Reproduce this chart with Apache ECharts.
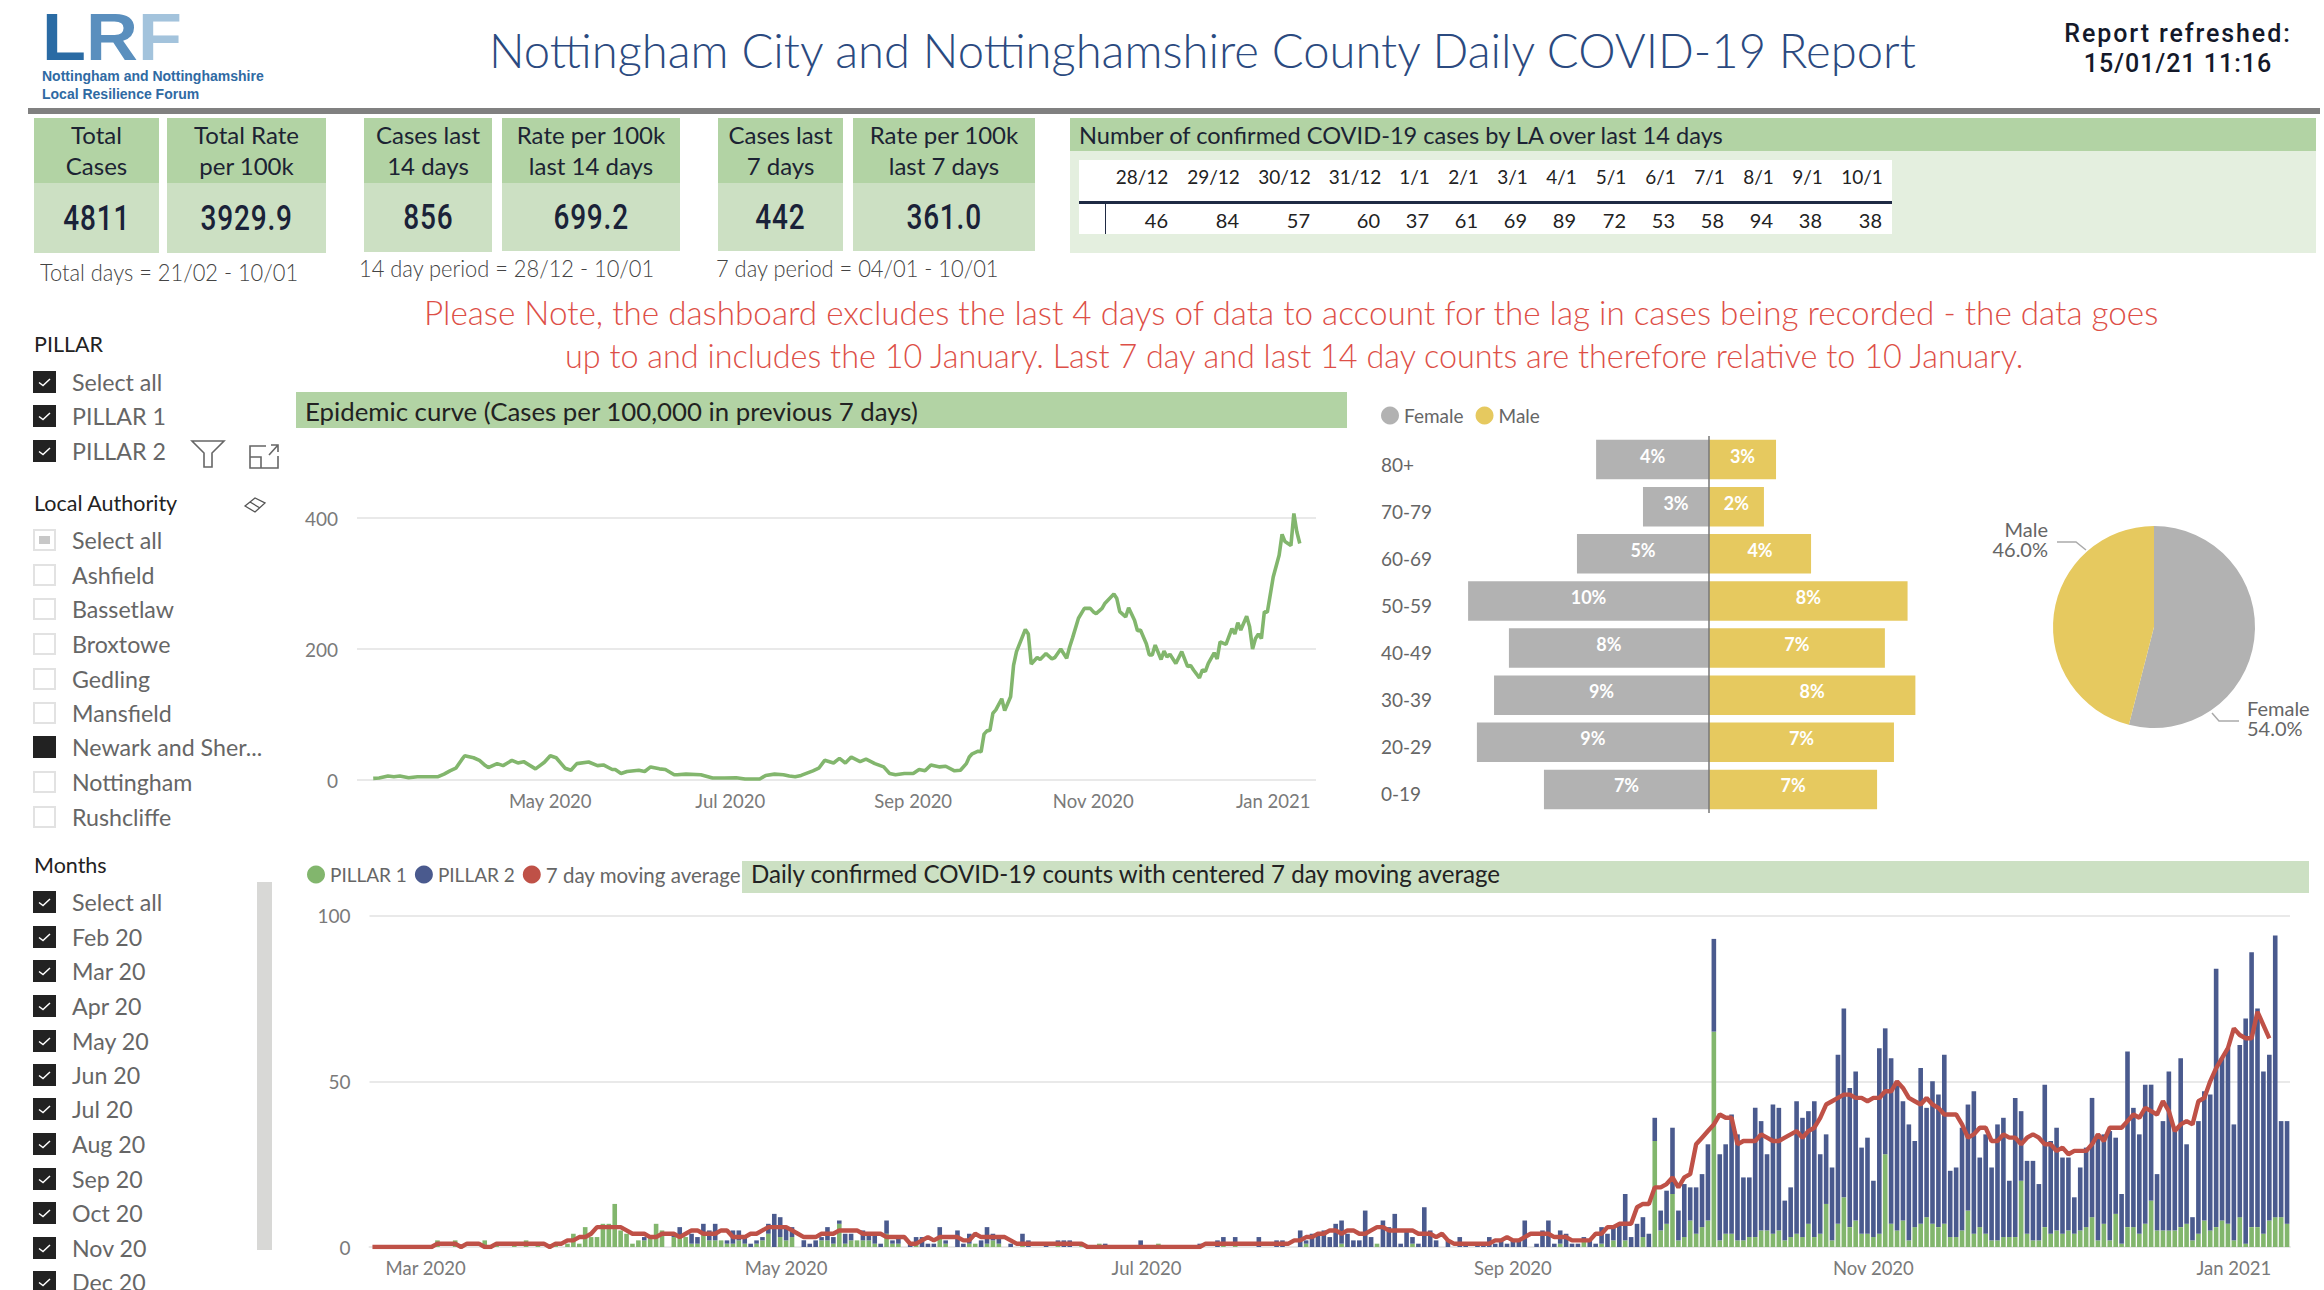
<!DOCTYPE html>
<html>
<head>
<meta charset="utf-8">
<title>Nottingham COVID-19 Report</title>
<script src="https://cdn.jsdelivr.net/npm/echarts@6/dist/echarts.min.js"></script>
<style>
  html, body { margin: 0; padding: 0; background: #fff; }
  #page { position: relative; width: 2324px; height: 1290px; overflow: hidden; font-family: Lato, "Open Sans", sans-serif; color: #222; }
  .abs { position: absolute; white-space: nowrap; }
  .block { position: absolute; }
  .kpi-head { box-sizing: border-box; padding-bottom: 2px; display: flex; flex-direction: column; justify-content: center; text-align: center; font-size: 24px; line-height: 31px; color: #1c2333; background: #b2d3a4; }
  .kpi-body { display: flex; align-items: center; justify-content: center; color: #1a2238; background: #cce0c3; }
  .kpi-body span { display: inline-block; font-family: Roboto, sans-serif; font-weight: 500; font-size: 35px; letter-spacing: 1px; transform: scaleX(.8); }
  .caption { font-size: 23px; font-weight: 300; color: #444; transform: scaleX(.95); transform-origin: left center; }
  .slicer-title { font-size: 21.5px; color: #222; }
  .slicer-item { font-size: 23.2px; color: #666; }
  .box { position: absolute; width: 23px; height: 22px; box-sizing: border-box; }
</style>
</head>
<body>
<div id="page">
  <div id="chart-epi" class="block" style="left:290px;top:430px;width:1060px;height:400px"></div>
  <div id="chart-pyramid" class="block" style="left:1360px;top:390px;width:620px;height:440px"></div>
  <div id="chart-pie" class="block" style="left:1980px;top:480px;width:344px;height:300px"></div>
  <div id="chart-daily" class="block" style="left:290px;top:850px;width:2034px;height:440px"></div>
</div>
<script>
(function() {
  // ===== data =====
  var kpiHeads = [['Total', 'Cases'], ['Total Rate', 'per 100k'], ['Cases last', '14 days'], ['Rate per 100k', 'last 14 days'], ['Cases last', '7 days'], ['Rate per 100k', 'last 7 days']];
  var kpiValues = ['4811', '3929.9', '856', '699.2', '442', '361.0'];
  var tableDays = ['28/12', '29/12', '30/12', '31/12', '1/1', '2/1', '3/1', '4/1', '5/1', '6/1', '7/1', '8/1', '9/1', '10/1'];
  var tableCases = [46, 84, 57, 60, 37, 61, 69, 89, 72, 53, 58, 94, 38, 38];
  var pillarOptions = ['Select all', 'PILLAR 1', 'PILLAR 2'];
  var laOptions = ['Select all', 'Ashfield', 'Bassetlaw', 'Broxtowe', 'Gedling', 'Mansfield', 'Newark and Sher...', 'Nottingham', 'Rushcliffe'];
  var monthOptions = ['Select all', 'Feb 20', 'Mar 20', 'Apr 20', 'May 20', 'Jun 20', 'Jul 20', 'Aug 20', 'Sep 20', 'Oct 20', 'Nov 20', 'Dec 20'];

  // epidemic curve: days after 2 Mar 2020, rate per 100k
  var epiDays = [0, 2, 5, 7, 9, 12, 15, 22, 24, 26, 28, 30, 31, 34, 36, 38, 39, 42, 44, 47, 49, 51, 55, 58, 60, 62, 65, 67, 69, 73, 76, 78, 81, 82, 84, 86, 90, 92, 94, 97, 99, 102, 103, 106, 111, 115, 119, 123, 126, 131, 133, 136, 139, 141, 143, 145, 149, 151, 153, 156, 158, 160, 162, 165, 167, 170, 173, 175, 177, 180, 183, 185, 187, 189, 192, 194, 197, 199, 201, 202, 203, 205, 206, 207, 208, 209, 210, 211, 213, 214, 216, 217, 218, 221, 222, 223, 225, 226, 228, 230, 231, 233, 235, 236, 237, 239, 241, 243, 244, 245, 247, 248, 251, 252, 253, 255, 256, 258, 259, 260, 262, 263, 264, 265, 267, 268, 269, 270, 272, 274, 276, 277, 278, 280, 281, 282, 283, 285, 286, 287, 289, 291, 292, 293, 294, 296, 297, 298, 299, 300, 301, 302, 303, 305, 307, 308, 309, 311, 312, 313, 314];
  var epiRates = [2.5, 3, 6, 5, 6, 3.5, 5, 5, 9, 14, 18, 31, 37, 34, 30, 22, 19, 25, 22, 30, 26, 28, 17, 27, 37, 34, 18, 15, 25, 27.5, 22, 23, 16, 16, 10, 13, 15, 13, 20, 17, 16, 8, 8, 9, 8, 3, 3, 3.5, 1.5, 1.5, 7, 9, 8, 6, 5, 7, 14, 18, 30, 26, 33, 26, 35, 28, 32, 25, 20, 10, 8, 10, 10, 16, 14, 23, 20, 21, 14, 15, 25, 35, 40, 44, 43, 70, 75, 76, 102, 107, 124, 106, 127, 175, 196, 230, 223, 177, 187, 184, 193, 185, 187, 200, 186, 203, 217, 247, 262, 262, 257, 254, 262, 270, 284, 277, 257, 249, 263, 244, 228, 229, 208, 191, 191, 206, 184, 197, 188, 192, 178, 196, 173, 175, 168, 156, 168, 166, 178, 194, 185, 211, 207, 231, 223, 240, 229, 250, 234, 200, 216, 223, 216, 257, 256, 310, 343, 375, 364, 358, 407, 379, 361];
  var epiTicks = [[2020, 4, 'May 2020'], [2020, 6, 'Jul 2020'], [2020, 8, 'Sep 2020'], [2020, 10, 'Nov 2020'], [2021, 0, 'Jan 2021']];

  // age / sex pyramid, % of all cases
  var ageBands = ['80+', '70-79', '60-69', '50-59', '40-49', '30-39', '20-29', '0-19'];
  var femaleShare = [4.48, 2.62, 5.24, 9.56, 7.94, 8.53, 9.21, 6.55];
  var maleShare = [2.66, 2.18, 4.05, 7.88, 6.98, 8.19, 7.34, 6.67];
  var sexNames = ['Female', 'Male'];
  var sexTotals = [54.0, 46.0];

  // daily counts from 21 Feb 2020, one row per 25 days
  var pillar1 = [
    0,0,0,0,0,0,0,0,0,0,0,2,0,0,2,0,0,0,0,2,0,1,0,0,1,
    0,2,0,1,0,0,1,0,1,4,1,6,3,3,7,7,13,5,4,1,2,2,3,7,5,
    0,3,3,3,1,1,4,2,2,2,1,1,2,1,0,1,2,4,0,3,2,3,0,0,0,
    0,2,2,1,7,1,2,2,2,2,1,0,4,1,1,0,0,1,0,0,0,3,1,0,0,
    0,1,1,0,1,2,1,0,0,0,1,0,0,0,0,0,1,0,0,0,1,0,0,1,0,
    0,0,0,0,0,0,0,0,1,0,0,0,0,0,0,0,0,0,0,1,0,1,0,0,0,
    0,0,0,0,0,0,0,0,1,0,0,0,0,0,1,0,0,0,0,0,1,0,0,0,0,
    0,1,0,0,0,0,0,0,0,0,0,0,0,0,0,0,0,0,0,0,0,0,0,0,0,
    0,1,0,0,0,2,0,0,1,0,2,0,2,0,0,3,0,32,5,7,16,2,3,8,4,
    6,8,65,2,4,4,2,2,3,3,5,5,4,5,2,3,4,3,7,3,4,13,2,7,15,
    6,8,4,4,3,4,28,7,5,8,2,6,7,9,7,6,7,3,3,5,11,4,6,4,2,
    2,3,3,3,20,4,2,2,6,4,5,4,5,4,5,6,9,2,7,2,10,1,6,6,4,
    7,14,5,5,5,5,6,7,2,4,8,5,6,8,7,2,9,1,6,6,4,8,9,9,7
  ];
  var pillar2 = [
    0,0,0,0,0,0,0,0,0,0,0,0,0,0,0,0,0,0,0,0,0,0,0,0,0,
    0,0,0,0,0,0,0,0,0,0,0,0,0,0,0,0,0,0,0,0,0,1,0,0,0,
    0,1,3,0,3,2,3,3,5,0,1,4,3,2,1,1,1,3,10,6,4,3,0,2,1,
    2,1,4,2,1,3,2,0,3,2,3,1,4,1,2,0,1,2,3,1,1,3,1,0,5,
    1,3,0,2,5,2,2,0,1,0,3,2,0,0,1,0,1,2,2,0,0,0,0,0,1,
    0,0,0,0,0,2,0,0,0,0,0,0,0,0,0,1,0,0,2,2,0,2,0,0,0,
    3,0,0,2,2,0,0,5,1,4,4,5,3,7,7,4,2,2,11,3,0,8,6,10,1,
    5,2,1,12,5,2,0,2,0,3,1,0,1,1,3,1,2,1,2,2,8,0,1,5,8,
    1,4,4,1,1,1,2,1,5,4,4,7,14,3,7,6,4,7,6,10,20,9,16,10,14,
    16,23,28,26,27,36,32,19,18,39,33,23,39,37,12,15,40,36,34,41,24,21,22,51,57,
    42,45,26,29,17,56,38,50,45,36,35,26,47,33,43,40,51,20,21,31,32,43,21,30,22,
    35,36,17,42,21,22,24,17,43,28,31,23,22,11,19,24,36,32,27,33,23,15,53,36,30,
    42,35,17,33,48,31,51,24,7,34,39,41,78,49,53,35,52,68,83,66,49,50,85,29,31
  ];
  var movingAvg = [
    0,0,0,0,0,0,0,0,0,0,0,1,1,1,1,0,1,1,1,0,0,1,1,1,1,
    1,1,1,1,1,0,1,1,2,2,3,3,4,6,6,6,6,6,5,4,4,4,3,3,4,
    4,4,3,4,5,5,4,4,4,5,5,3,3,3,4,4,5,6,6,6,6,5,4,3,3,
    3,4,4,4,5,5,5,5,4,4,4,4,3,3,3,3,1,1,2,3,2,3,3,3,3,
    2,2,4,3,3,3,3,3,2,1,1,1,1,1,1,1,1,1,1,1,1,0,0,0,0,
    0,0,0,0,0,0,0,0,0,0,0,0,0,0,0,0,1,1,1,1,1,1,1,1,1,
    1,1,1,1,1,1,2,2,3,3,4,4,5,5,4,5,5,4,4,5,6,6,5,5,5,
    5,5,4,4,4,3,4,2,1,1,1,1,1,1,1,2,2,3,2,2,3,4,4,4,4,
    3,3,3,2,2,2,2,4,4,6,6,7,7,7,12,13,13,18,18,19,21,18,21,22,31,
    33,35,37,40,39,39,31,32,32,32,34,33,32,32,33,34,35,33,35,36,39,43,44,45,46,
    46,45,45,44,45,45,47,47,50,48,45,44,43,45,43,42,40,40,40,37,33,34,36,36,32,
    32,34,33,33,31,33,34,33,31,31,29,30,28,29,29,29,31,34,32,36,36,36,38,40,39,
    42,41,40,44,41,35,37,38,37,44,45,50,54,57,60,66,64,63,63,71,67,63,null,null,null
  ];
  var dailyStart = Date.UTC(2020, 1, 21);
  var dailyTicks = { '2020-03-01': 'Mar 2020', '2020-05-01': 'May 2020', '2020-07-01': 'Jul 2020', '2020-09-01': 'Sep 2020', '2020-11-01': 'Nov 2020', '2021-01-01': 'Jan 2021' };

  // ===== colours =====
  var green = '#82b66d';
  var navy = '#4a5a8e';
  var red = '#bf5147';
  var grey = '#b2b2b2';
  var yellow = '#e6c95f';
  var gridLine = '#e9e9e9';
  var tickText = '#7a7a7a';

  // ===== page furniture =====
  var page = document.getElementById('page');
  function put(x, y, w, h, cls, html, css) {
    var el = document.createElement('div');
    el.className = 'block ' + (cls || '');
    el.style.cssText = 'left:' + x + 'px;top:' + y + 'px;' + (w ? 'width:' + w + 'px;' : '') + (h ? 'height:' + h + 'px;' : '') + (css || '');
    if (html) el.innerHTML = html;
    page.appendChild(el);
    return el;
  }
  // text centred vertically on yc
  function label(x, yc, cls, text, css) {
    var el = put(x, yc - 20, 0, 40, 'abs ' + (cls || ''), text, 'line-height:40px;' + (css || ''));
    return el;
  }

  // logo, one block so the big letters and the small lines sit tight
  put(42, 5, 0, 0, 'abs',
    '<div style="font-size:66px;line-height:65px;height:62px;transform:scaleX(1.09);transform-origin:left"><span style="color:#2a6ba4">L</span><span style="color:#5a8fbe">R</span><span style="color:#a3c3dc">F</span></div>' +
    '<div style="font-size:14px;line-height:18px;color:#2f6aa3">Nottingham and Nottinghamshire<br>Local Resilience Forum</div>',
    'font-family:"Liberation Sans",sans-serif;font-weight:bold');

  label(489, 50, '', 'Nottingham City and Nottinghamshire County Daily COVID-19 Report', 'font-size:47.2px;font-weight:300;color:#2b4a80');
  put(2058, 19, 240, 0, '', '<span style="letter-spacing:1.9px">Report refreshed:</span><br><span style="letter-spacing:1px">15/01/21 11:16</span>', 'text-align:center;font:500 25px/29.5px Roboto,sans-serif;color:#14192a');
  put(28, 108, 2292, 6, '', '', 'background:#808080');

  // KPI tiles
  var kpiBoxes = [[34, 125, 253], [167, 159, 253], [364, 128, 252], [502, 178, 251], [718, 125, 251], [853, 182, 251]];
  kpiBoxes.forEach(function(b, i) {
    put(b[0], 118, b[1], 65, 'kpi-head', kpiHeads[i].join('<br>'));
    put(b[0], 183, b[1], b[2] - 183, 'kpi-body', '<span>' + kpiValues[i] + '</span>');
  });
  label(40, 272, 'caption', 'Total days = 21/02 - 10/01');
  label(359, 268, 'caption', '14 day period = 28/12 - 10/01');
  label(716, 268, 'caption', '7 day period = 04/01 - 10/01');

  // 14 day table
  put(1070, 118, 1246, 33, '', '', 'background:#b2d3a4');
  put(1070, 151, 1246, 102, '', '', 'background:#e4efdf');
  label(1079, 135, '', 'Number of confirmed COVID-19 cases by LA over last 14 days', 'font-size:23.6px;color:#1c2333');
  put(1079, 160, 813, 74, '', '', 'background:#fff');
  put(1079, 201, 813, 3, '', '', 'background:#1f2a44');
  put(1105, 204, 1, 30, '', '', 'background:#1f2a44');
  var tableEdges = [1106, 1178, 1249, 1320, 1390, 1439, 1488, 1537, 1586, 1636, 1685, 1734, 1783, 1832, 1892];
  tableDays.forEach(function(d, i) {
    put(tableEdges[i], 162, tableEdges[i + 1] - tableEdges[i], 30, '', d, 'text-align:center;font-size:19px;line-height:30px;color:#222');
    put(tableEdges[i], 205, tableEdges[i + 1] - tableEdges[i] - 10, 30, '', String(tableCases[i]), 'text-align:right;font-size:20px;line-height:30px;color:#222');
  });

  // red note
  label(424, 312, '', 'Please Note, the dashboard excludes the last 4 days of data to account for the lag in cases being recorded - the data goes', 'font-size:33.25px;font-weight:300;color:#dd4f47');
  label(565, 356, '', 'up to and includes the 10 January. Last 7 day and last 14 day counts are therefore relative to 10 January.', 'font-size:32.4px;font-weight:300;color:#dd4f47');

  // section bands
  put(296, 392, 1051, 36, '', '', 'background:#b2d3a4');
  label(305, 411, '', 'Epidemic curve (Cases per 100,000 in previous 7 days)', 'font-size:25.8px;color:#222');
  put(742, 861, 1567, 32, '', '', 'background:#cce0c3');
  label(751, 874, '', 'Daily confirmed COVID-19 counts with centered 7 day moving average', 'font-size:24.1px;color:#222');

  // slicers
  var tick = '<svg width="23" height="22" viewBox="0 0 23 22"><path d="M6 11.5 L10 14.5 L17 8" fill="none" stroke="#fff" stroke-width="1.5"/></svg>';
  function slicer(items, ys, state) {
    items.forEach(function(name, i) {
      var s = state(i);
      var css = 'left:33px;top:' + (ys[i] - 11) + 'px;';
      var inner = '';
      if (s === 'on') { css += 'background:#222;'; inner = tick; }
      if (s === 'solid') { css += 'background:#222;'; }
      if (s === 'off') { css += 'border:2px solid #e2e2e2;'; }
      if (s === 'part') { css += 'border:2px solid #e2e2e2;'; inner = '<div style="margin:5px 4px;height:8px;background:#c8c8c8"></div>'; }
      var box = document.createElement('div');
      box.className = 'box';
      box.style.cssText = css;
      box.innerHTML = inner;
      page.appendChild(box);
      label(72, ys[i], 'slicer-item', name);
    });
  }
  label(34, 344, 'slicer-title', 'PILLAR');
  slicer(pillarOptions, [382, 416, 451], function() { return 'on'; });
  label(34, 503, 'slicer-title', 'Local Authority');
  slicer(laOptions, [540, 575, 609, 644, 679, 713, 747, 782, 817], function(i) { return i === 0 ? 'part' : (i === 6 ? 'solid' : 'off'); });
  label(34, 865, 'slicer-title', 'Months');
  slicer(monthOptions, [902, 937, 971, 1006, 1041, 1075, 1109, 1144, 1179, 1213, 1248, 1282], function() { return 'on'; });
  put(257, 882, 15, 368, '', '', 'background:#d8d8d6');

  // visual header icons
  put(190, 438, 36, 32, '', '<svg width="36" height="32" viewBox="0 0 36 32"><path d="M2 3 H34 L22 15 V29 H14 V15 Z" fill="none" stroke="#666" stroke-width="1.6"/></svg>');
  put(248, 442, 32, 28, '', '<svg width="32" height="28" viewBox="0 0 32 28"><path d="M18 4 H2 V26 H30 V14 M2 15 H13 V26 M21 13 L30 3 M23 3 H30 V10" fill="none" stroke="#666" stroke-width="1.6"/></svg>');
  put(243, 495, 24, 20, '', '<svg width="24" height="20" viewBox="0 0 24 20"><path d="M2 11 L12 3 L22 8 L12 17 Z M7 7 L17 13" fill="none" stroke="#555" stroke-width="1.3"/></svg>');

  // ===== 图：epidemic curve =====
  var epiStart = Date.UTC(2020, 2, 2);
  var epiSeries = epiDays.map(function(d, i) { return [epiStart + d * 86400000, epiRates[i]]; });
  var epiTickValues = epiTicks.map(function(t) { return Date.UTC(t[0], t[1], 1); });
  var epiChart = echarts.init(document.getElementById('chart-epi'), null, { renderer: 'svg' });
  epiChart.setOption({
    animation: false,
    grid: { left: 67, top: 88, width: 959, height: 262 },
    xAxis: {
      type: 'value',
      min: Date.UTC(2020, 1, 25, 12),
      max: Date.UTC(2021, 0, 15, 12),
      axisLine: { show: false },
      axisTick: { show: false },
      splitLine: { show: false },
      axisLabel: {
        customValues: epiTickValues,
        color: tickText,
        fontSize: 18.5,
        fontFamily: 'Lato',
        margin: 11,
        formatter: function(v) { return epiTicks[epiTickValues.indexOf(+v)][2]; }
      }
    },
    yAxis: {
      type: 'value',
      min: 0,
      max: 400,
      interval: 200,
      axisLine: { show: false },
      axisTick: { show: false },
      axisLabel: { color: tickText, fontSize: 19, fontFamily: 'Lato', margin: 19 },
      splitLine: { lineStyle: { color: gridLine, width: 2 } }
    },
    series: [{
      type: 'line',
      data: epiSeries,
      symbol: 'none',
      clip: false,
      lineStyle: { color: green, width: 3.6 }
    }]
  });

  // ===== 图：age pyramid =====
  var pyramid = echarts.init(document.getElementById('chart-pyramid'), null, { renderer: 'svg' });
  function pctLabel(p) { return Math.round(Math.abs(p.value)) + '%'; }
  pyramid.setOption({
    animation: false,
    legend: {
      data: sexNames,
      left: 16,
      top: 11,
      icon: 'circle',
      itemWidth: 18,
      itemHeight: 18,
      itemGap: 12,
      textStyle: { color: '#666', fontSize: 19, fontFamily: 'Lato' }
    },
    grid: { left: 80, top: 46, width: 538, height: 377 },
    xAxis: { type: 'value', min: -10.675, max: 10.675, show: false },
    yAxis: {
      type: 'category',
      data: ageBands,
      inverse: true,
      axisLine: { show: false },
      axisTick: { show: false },
      axisLabel: { color: '#666', fontSize: 19, fontFamily: 'Lato', align: 'left', margin: 59, verticalAlign: 'top', lineHeight: 9 }
    },
    series: [{
      name: 'Female',
      type: 'bar',
      stack: 'sex',
      barWidth: 39.5,
      data: femaleShare.map(function(v) { return -v; }),
      itemStyle: { color: grey },
      label: { show: true, position: 'inside', color: '#fff', fontWeight: 700, fontSize: 18, fontFamily: 'Lato', formatter: pctLabel, offset: [0, -4] }
    }, {
      name: 'Male',
      type: 'bar',
      stack: 'sex',
      barWidth: 39.5,
      data: maleShare,
      itemStyle: { color: yellow },
      label: { show: true, position: 'inside', color: '#fff', fontWeight: 700, fontSize: 18, fontFamily: 'Lato', formatter: pctLabel, offset: [0, -4] },
      markLine: {
        silent: true,
        symbol: 'none',
        label: { show: false },
        lineStyle: { color: '#777', width: 1.5, type: 'solid' },
        data: [{ xAxis: 0 }]
      }
    }]
  });

  // ===== 图：sex split =====
  function pieText(i) { return sexNames[i] + '\n' + sexTotals[i].toFixed(1) + '%'; }
  var pie = echarts.init(document.getElementById('chart-pie'), null, { renderer: 'svg' });
  pie.setOption({
    animation: false,
    graphic: [
      { type: 'text', x: 267, y: 238, style: { text: pieText(0), align: 'left', verticalAlign: 'middle', fill: '#666', fontSize: 20, fontFamily: 'Lato', lineHeight: 20 } },
      { type: 'text', x: 68, y: 59, style: { text: pieText(1), align: 'right', verticalAlign: 'middle', fill: '#666', fontSize: 20, fontFamily: 'Lato', lineHeight: 20 } },
      { type: 'polyline', shape: { points: [[232, 233], [239, 241], [259, 241]] }, style: { stroke: '#aaa', lineWidth: 1.5, fill: 'none' } },
      { type: 'polyline', shape: { points: [[77, 62], [96, 62], [106, 70]] }, style: { stroke: '#aaa', lineWidth: 1.5, fill: 'none' } }
    ],
    series: [{
      type: 'pie',
      center: [174, 147],
      radius: 101,
      startAngle: 90,
      data: [
        { name: sexNames[0], value: sexTotals[0], itemStyle: { color: grey } },
        { name: sexNames[1], value: sexTotals[1], itemStyle: { color: yellow } }
      ],
      label: { show: false },
      labelLine: { show: false }
    }]
  });

  // ===== 图：daily counts =====
  var dailyDates = pillar1.map(function(v, i) { return new Date(dailyStart + i * 86400000).toISOString().slice(0, 10); });
  var daily = echarts.init(document.getElementById('chart-daily'), null, { renderer: 'svg' });
  daily.setOption({
    animation: false,
    legend: {
      data: ['PILLAR 1', 'PILLAR 2', { name: '7 day moving average', textStyle: { fontSize: 20.5 } }],
      left: 12,
      top: 9,
      icon: 'circle',
      itemWidth: 18,
      itemHeight: 18,
      itemGap: 8,
      textStyle: { color: '#666', fontSize: 19, fontFamily: 'Lato' }
    },
    grid: { left: 79.5, top: 65.7, width: 1920.5, height: 331.3 },
    xAxis: {
      type: 'category',
      data: dailyDates,
      axisLine: { lineStyle: { color: gridLine, width: 2 } },
      axisTick: { show: false },
      axisLabel: {
        color: tickText,
        fontSize: 18.5,
        fontFamily: 'Lato',
        margin: 11,
        interval: function(i, v) { return !!dailyTicks[v]; },
        formatter: function(v) { return dailyTicks[v] || ''; }
      }
    },
    yAxis: {
      type: 'value',
      min: 0,
      max: 100,
      interval: 50,
      axisLine: { show: false },
      axisTick: { show: false },
      axisLabel: { color: tickText, fontSize: 19, fontFamily: 'Lato', margin: 19 },
      splitLine: { lineStyle: { color: gridLine, width: 2 } }
    },
    series: [
      { name: 'PILLAR 1', type: 'bar', stack: 'count', barWidth: 4.6, data: pillar1, itemStyle: { color: green } },
      { name: 'PILLAR 2', type: 'bar', stack: 'count', barWidth: 4.6, data: pillar2, itemStyle: { color: navy } },
      { name: '7 day moving average', type: 'line', data: movingAvg, symbol: 'none', connectNulls: false, lineStyle: { color: red, width: 4.4 }, itemStyle: { color: red }, z: 5 }
    ]
  });
})();
</script>
</body>
</html>
